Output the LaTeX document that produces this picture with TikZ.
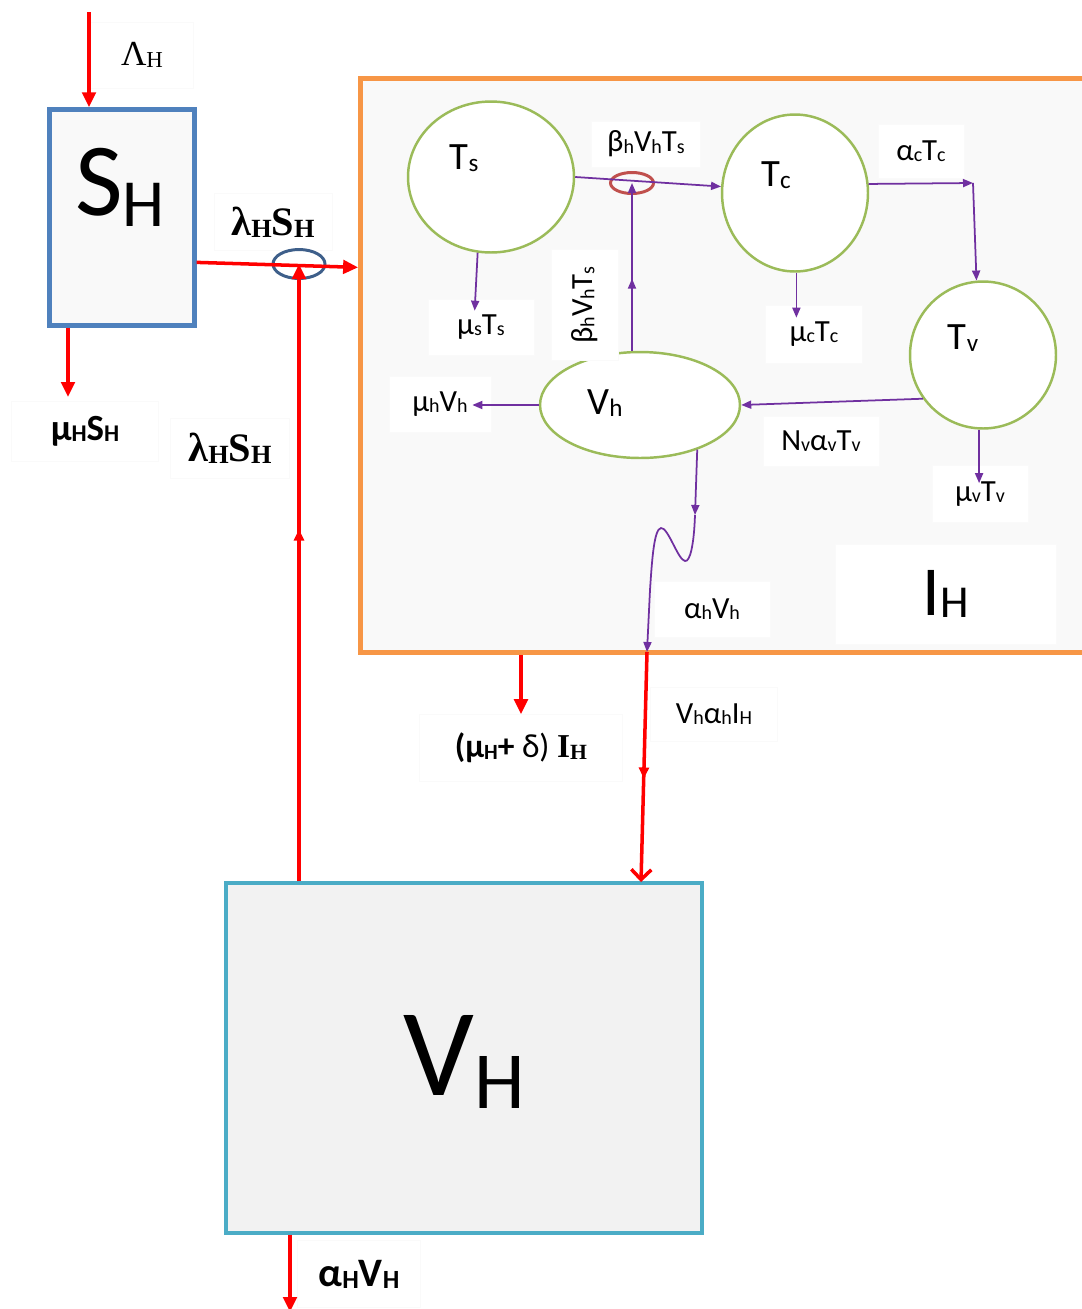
\documentclass[tikz,border=0pt]{standalone}
\usepackage{fontspec}
\setmainfont{Carlito}
\newfontfamily\tms{Liberation Serif}
\usepackage{graphicx}
\usetikzlibrary{shapes.geometric, arrows.meta, positioning, calc, decorations.markings}

\definecolor{shblue}{HTML}{4F81BD}
\definecolor{ihorange}{HTML}{F79646}
\definecolor{vhcyan}{HTML}{4BACC6}
\definecolor{circgreen}{HTML}{9BBB59}
\definecolor{flowpurple}{HTML}{7030A0}
\definecolor{ringblue}{HTML}{3E5F8A}
\definecolor{ringred}{HTML}{C0504D}
\definecolor{paleback}{HTML}{F9F9F9}
\definecolor{greyback}{HTML}{F2F2F2}

\newcommand{\dn}[2][-0.1ex]{\raisebox{#1}{\scalebox{0.65}{#2}}}

\begin{document}
\begin{tikzpicture}[
    x=0.02cm, y=-0.02cm,
    compartment/.style={rectangle, inner sep=0pt},
    state/.style={ellipse, draw=circgreen, line width=1.4pt, fill=white, inner sep=0pt},
    rate/.style={rectangle, fill=white, draw=black!2, inner sep=0pt, font=\fontsize{17.5}{20}\selectfont},
    ring/.style={ellipse, inner sep=0pt, line width=1.7pt},
    redflow/.style={draw=red, line width=2pt, -{Triangle[length=0.3cm,width=0.27cm]}},
    flow/.style={draw=flowpurple, line width=1pt, -{Triangle[length=0.2cm,width=0.16cm]}},
    midred/.style={postaction={decorate}, decoration={markings, mark=at position #1 with {\arrow{Triangle[length=0.22cm,width=0.2cm,color=red]}}}},
    midpurple/.style={postaction={decorate}, decoration={markings, mark=at position #1 with {\arrow{Triangle[length=0.2cm,width=0.16cm,color=flowpurple]}}}}
]
\useasboundingbox (0,0) rectangle (1082,1309);

% compartments
\node (IH) [compartment, draw=ihorange, line width=2.8pt, fill=paleback, minimum width=14.6cm, minimum height=11.48cm] at (725.5,365.5) {};
\node (SH) [compartment, draw=shblue, line width=2.5pt, fill=paleback, minimum width=2.9cm, minimum height=4.32cm,
    label={[font=\fontsize{59}{60}\selectfont, xshift=-0.04cm, yshift=0.6cm]center:S\dn[-0.1em]{H}}] at (122,217.5) {};
\node (VH) [compartment, draw=vhcyan, line width=1.8pt, fill=greyback, minimum width=9.52cm, minimum height=7cm,
    label={[font=\fontsize{71}{72}\selectfont, yshift=-0.08cm]center:V\dn[-0.1em]{H}}] at (464,1058) {};

% states inside I_H
\node (Ts) [state, minimum width=3.32cm, minimum height=3.02cm,
    label={[font=\fontsize{22}{24}\selectfont, xshift=-0.54cm, yshift=0.38cm]center:T\dn{s}}] at (491,177) {};
\node (Tc) [state, minimum width=2.92cm, minimum height=3.14cm,
    label={[font=\fontsize{22}{24}\selectfont, xshift=-0.38cm, yshift=0.36cm]center:T\dn{c}}] at (795,193) {};
\node (Tv) [state, minimum width=2.92cm, minimum height=2.94cm,
    label={[font=\fontsize{22}{24}\selectfont, xshift=-0.4cm, yshift=0.34cm]center:T\dn{v}}] at (983,355) {};
\node (Vh) [state, minimum width=4cm, minimum height=2.12cm,
    label={[font=\fontsize{22}{24}\selectfont, xshift=-0.7cm, yshift=0.04cm]center:V\dn{h}}] at (640,405) {};

% rate labels
\node (lamH) [rate, font=\tms\fontsize{20}{22}\selectfont, minimum width=2.06cm, minimum height=1.32cm] at (142,55) {Λ\dn{H}};
\node (muHSH) [rate, font=\bfseries\fontsize{21}{23}\selectfont, minimum width=2.94cm, minimum height=1.2cm] at (85,431) {μ\dn{H}S\dn{H}};
\node (lamSH) [rate, font=\tms\bfseries\fontsize{23}{25}\selectfont, minimum width=2.36cm, minimum height=1.14cm] at (273,222) {λ\dn{H}S\dn{H}};
\node (lamSHb) [rate, font=\tms\bfseries\fontsize{23}{25}\selectfont, minimum width=2.38cm, minimum height=1.2cm] at (230,448) {λ\dn{H}S\dn{H}};
\node (betTs) [rate, minimum width=2.18cm, minimum height=0.92cm] at (646,144) {β\dn{h}V\dn{h}T\dn{s}};
\node (betTsr) [rate, rotate=90, minimum width=2.22cm, minimum height=1.34cm] at (585,305) {β\dn{h}V\dn{h}T\dn{s}};
\node (muSTs) [rate, minimum width=2.12cm, minimum height=1.12cm] at (481,327) {μ\dn{s}T\dn{s}};
\node (alcTc) [rate, minimum width=1.72cm, minimum height=1.08cm] at (921,151) {α\dn{c}T\dn{c}};
\node (mucTc) [rate, minimum width=1.94cm, minimum height=1.16cm] at (814,334) {μ\dn{c}T\dn{c}};
\node (NvTv) [rate, minimum width=2.32cm, minimum height=1cm] at (821,441) {N\dn{v}α\dn{v}T\dn{v}};
\node (muvTv) [rate, minimum width=1.92cm, minimum height=1.14cm] at (980,494) {μ\dn{v}T\dn{v}};
\node (muhVh) [rate, minimum width=2.04cm, minimum height=1.12cm] at (440,404) {μ\dn{h}V\dn{h}};
\node (alhVh) [rate, minimum width=2.32cm, minimum height=1.12cm] at (712,609) {α\dn{h}V\dn{h}};
\node (IHname) [rate, font=\fontsize{40}{42}\selectfont, minimum width=4.42cm, minimum height=2cm] at (946,594) {I\dn[-0.03em]{H}};
\node (muDel) [rate, font=\fontsize{19}{21}\selectfont, minimum width=4.06cm, minimum height=1.34cm] at (521,748) {{\bfseries(μ\dn{H}+} δ) {\tms\bfseries I\dn{H}}};
\node (VhalIH) [rate, minimum width=2.54cm, minimum height=1.08cm] at (714,714) {V\dn{h}α\dn{h}I\dn{H}};
\node (alHVH) [rate, font=\bfseries\fontsize{23}{25}\selectfont, minimum width=2.46cm, minimum height=1.34cm] at (359,1274) {α\dn{H}V\dn{H}};

% rings
\node (inf) [ring, draw=ringblue, minimum width=1.04cm, minimum height=0.58cm] at (299,264) {};
\node (bet) [ring, draw=ringred, minimum width=0.86cm, minimum height=0.42cm] at (632,183) {};

% human flows
\coordinate (birth) at (89,12);
\coordinate (deathS) at (68,397);
\coordinate (IHout) at (647,652);
\coordinate (VHin) at (641,882);
\coordinate (deathV) at (290,1312);

\draw [redflow] (birth) -- (birth |- SH.north);
\draw [redflow] (deathS |- SH.south) -- (deathS);
\draw [redflow] (SH.-31) -- ($(SH.-31 -| IH.west)+(0,5)$);
\draw [redflow, midred=0.57] (inf.center |- VH.north) -- (inf.center);
\draw [redflow, -{Straight Barb[length=0.2cm,width=0.4cm]}, midred=0.55] (IHout) -- (VHin);
\draw [redflow] (muDel.north |- IH.south) -- (muDel.north);
\draw [redflow] (deathV |- VH.south) -- (deathV);

% flows inside I_H
\coordinate (ccorner) at (973,183);
\coordinate (kink) at (695,515);

\draw [flow] (Ts.east) -- (Tc.175);
\draw [flow, midpurple=0.43] (bet.center |- Vh.north) -- (bet.center);
\draw [flow] (Ts.-100) -- ($(Ts.-100 |- muSTs.north)+(-3,12)$);
\draw [flow] (Tc.7) -- (ccorner);
\draw [flow] (ccorner) -- (Tv.95);
\draw [flow] (Tc.-89) -- ($(Tc.-89 |- mucTc.north)+(0,13)$);
\draw [flow] (Tv.-144) -- (Vh.east);
\draw [flow] (Tv.-93) -- ($(Tv.-93 |- muvTv.north)+(0,18)$);
\draw [flow] (Vh.west) -- ($(Vh.west -| muhVh.east)+(-19,0)$);
\draw [flow] (Vh.-38) -- (kink);
\draw [flow] (kink) .. controls (694,545) and (690,562) .. (685,561) .. controls (678,560) and (668,527) .. (661,528) .. controls (654,529) and (652,560) .. (650,590) -- (IHout);

\end{tikzpicture}
\end{document}
